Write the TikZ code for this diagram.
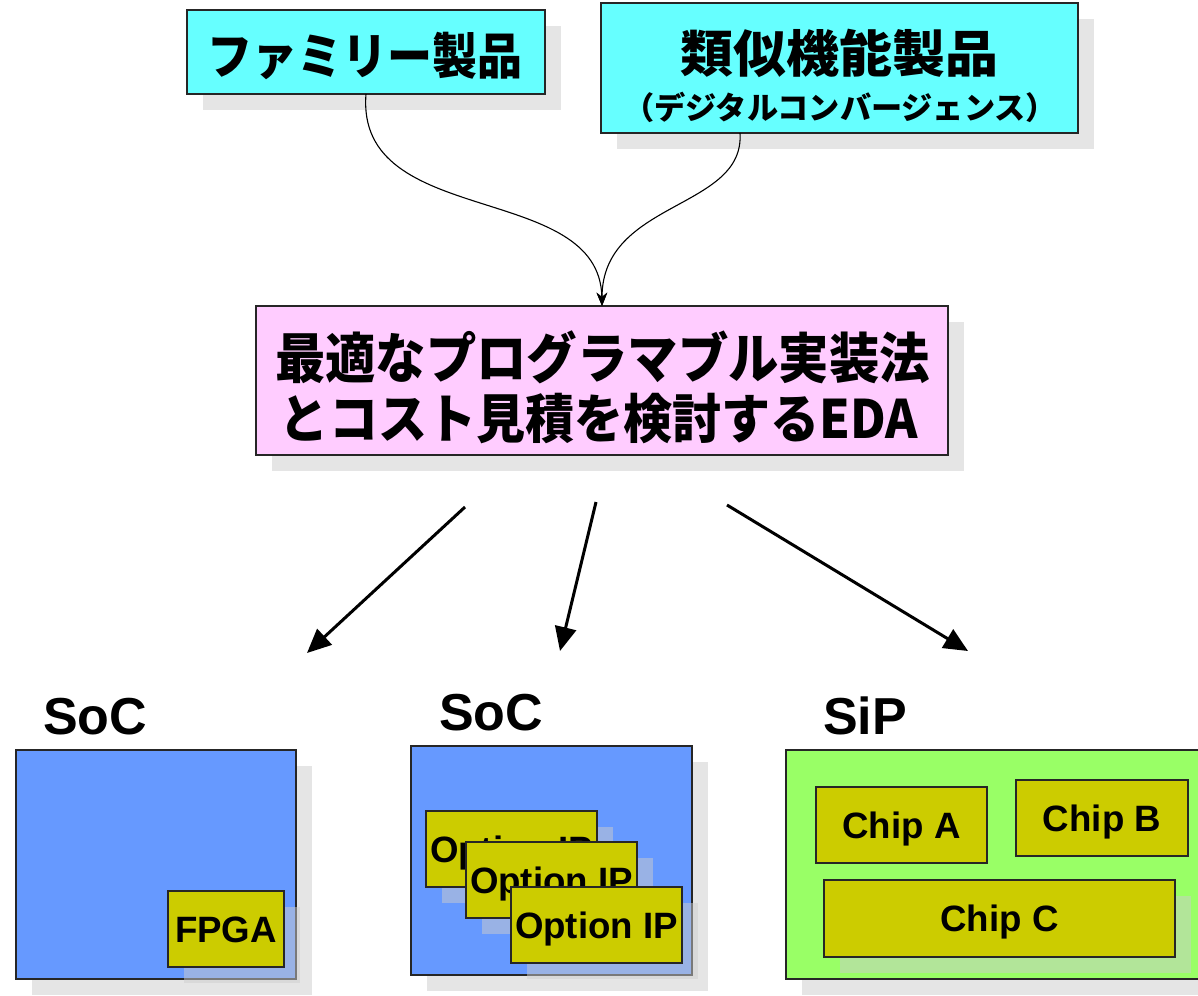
\documentclass[tikz,border=0pt]{standalone}
\usepackage{fontspec}
\setmainfont{Liberation Sans}
\newfontfamily\jpfont{Noto Sans CJK JP}
\usetikzlibrary{shadows,arrows.meta,calc}

\newlength\pxu
\setlength\pxu{0.75pt}

\definecolor{cyanbox}{HTML}{66FFFF}
\definecolor{pinkbox}{HTML}{FFCCFF}
\definecolor{bluebox}{HTML}{6699FF}
\definecolor{greenbox}{HTML}{99FF66}
\definecolor{chipbox}{HTML}{CCCC00}
\definecolor{shadowgray}{HTML}{CCCCCC}

% Japanese line, stretched to a given width (px) and vertical factor
\newcommand\jpline[3]{\scalebox{1}[#1]{\resizebox{#2\pxu}{!}{\jpfont\bfseries\fontsize{40}{40}\selectfont #3}}}

\begin{document}
\begin{tikzpicture}[x=0.75pt,y=-0.75pt,
  shade/.style={drop shadow={shadow xshift=12pt, shadow yshift=-12pt,
      fill=shadowgray, opacity=0.5}},
  box/.style={draw=black!85, line width=1.5\pxu, inner sep=0pt, outer sep=0pt},
  sbox/.style={box, shade},
  chip/.style={box, fill=chipbox, minimum width=171\pxu, minimum height=76\pxu,
      font=\bfseries\fontsize{27.5}{30}\selectfont, text height=19.7pt, text depth=0pt},
  jptext/.style={inner sep=0pt, outer sep=0pt},
  title/.style={font=\bfseries\fontsize{39}{42}\selectfont, inner sep=0pt, anchor=base},
  curvearrow/.style={line width=1.1\pxu, -{Stealth[length=10pt,width=8pt]}},
  bigarrow/.style={line width=3\pxu, -{Triangle[length=18pt,width=16pt]}}]

\useasboundingbox (0,0) rectangle (1198,995);

% source products
\node[sbox, fill=cyanbox, minimum width=358\pxu, minimum height=84\pxu] (fam) at (366,52) {};
\node[jptext] (famt) at (364.5,56) {\jpline{1.1}{315}{ファミリー製品}};

\node[sbox, fill=cyanbox, minimum width=477\pxu, minimum height=130\pxu] (sim) at (839.5,68) {};
\node[jptext] (simt1) at (839,53) {\jpline{0.95}{318}{類似機能製品}};
\node[jptext] (simt2) at (840,107) {\jpline{1.0}{434}{（デジタルコンバージェンス）}};

% EDA box
\node[sbox, fill=pinkbox, minimum width=692\pxu, minimum height=149\pxu] (eda) at (602,380.5) {};
\node[jptext] (edat1) at (602.5,357) {\jpline{1.08}{655}{最適なプログラマブル実装法}};
\node[jptext] (edat2) at (599,419) {\jpline{1.08}{638}{とコスト見積を検討するEDA}};

% merging curves
\draw[curvearrow] (fam.south) .. controls (355,230) and (600,180) .. (eda.north);
\draw[curvearrow] ($(sim.south west)+(139,0)$) .. controls (745,210) and (602,200) .. (eda.north);

% outgoing arrows
\coordinate (a1s) at (465,507); \coordinate (a1e) at (307,653);
\coordinate (a2s) at (596,502); \coordinate (a2e) at (560,651);
\coordinate (a3s) at (727,505); \coordinate (a3e) at (968,651);
\draw[bigarrow] (a1s) -- (a1e);
\draw[bigarrow] (a2s) -- (a2e);
\draw[bigarrow] (a3s) -- (a3e);

% labels
\node[title] (soc1) at (95,734) {SoC};
\node[title] (soc2) at (491,730) {SoC};
\node[title] (sipl) at (865,734) {SiP};

% SoC with FPGA
\node[sbox, fill=bluebox, minimum width=280\pxu, minimum height=229\pxu] (socA) at (156,864.5) {};
\node[chip, shade, minimum width=116\pxu] (fpga) at (226,929) {FPGA};

% SoC with option IPs
\node[sbox, fill=bluebox, minimum width=281\pxu, minimum height=229\pxu] (socB) at (551.5,860.5) {};
\node[chip, shade] (ip1) at (511.5,849) {Option IP};
\node[chip, shade] (ip2) at (551.5,880) {Option IP};
\node[chip, shade] (ip3) at (596.5,925) {Option IP};

% SiP with chips
\node[sbox, fill=greenbox, minimum width=429\pxu, minimum height=229\pxu] (sip) at (1000.5,864.5) {};
\node[chip] (chipA) at (901.5,825) {Chip A};
\node[chip, minimum width=172\pxu] (chipB) at (1102,818) {Chip B};
\node[chip, shade, minimum width=351\pxu, minimum height=77\pxu] (chipC) at (999.5,918.5) {Chip C};

\end{tikzpicture}
\end{document}
